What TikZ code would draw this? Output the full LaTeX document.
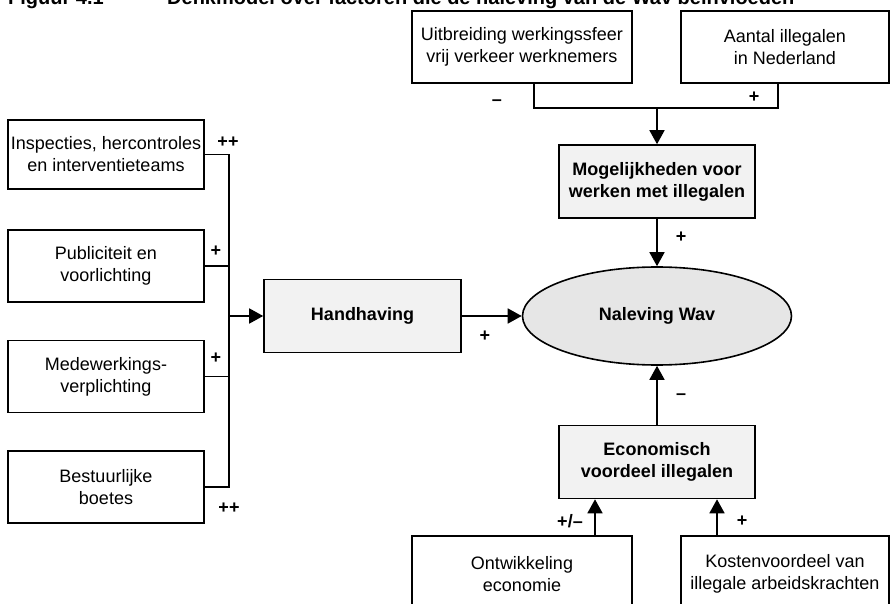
\documentclass[tikz,border=0pt]{standalone}
\usepackage{fontspec}
\setmainfont{Liberation Sans}
\usetikzlibrary{shapes.geometric,arrows.meta}
\definecolor{boxgray}{HTML}{F2F2F2}
\definecolor{ellgray}{HTML}{E6E6E6}
\begin{document}
\begin{tikzpicture}[x=1pt,y=-1pt,
  box/.style={draw, line width=1.6pt, inner sep=0pt, align=center, font=\fontsize{18}{22}\selectfont},
  gbox/.style={box, fill=boxgray, font=\fontsize{18}{22}\selectfont\bfseries},
  conn/.style={line width=1.6pt},
  arr/.style={conn, -{Triangle[length=14pt,width=15pt]}},
  lbl/.style={font=\fontsize{18}{18}\selectfont\bfseries, inner sep=0pt}]
\useasboundingbox (0,0) rectangle (892,604);
% title (cut off at top)
\node[anchor=base west, inner sep=0pt, font=\fontsize{20}{20}\selectfont\bfseries] (t1) at (8,5) {Figuur 4.1};
\node[anchor=base west, inner sep=0pt, font=\fontsize{20}{20}\selectfont\bfseries] (t2) at (167,5) {Denkmodel over factoren die de naleving van de Wav beïnvloeden};
% top boxes
\node[box, minimum width=220pt, minimum height=72pt] (uit) at (522,47) {Uitbreiding werkingssfeer\\vrij verkeer werknemers};
\node[box, minimum width=208pt, minimum height=72pt] (aan) at (785,47) {Aantal illegalen\\in Nederland};
% central
\node[gbox, minimum width=196pt, minimum height=73pt] (mog) at (657,181.5) {Mogelijkheden voor\\werken met illegalen};
\node[draw, line width=1.6pt, ellipse, fill=ellgray, minimum width=269pt, minimum height=98pt, inner sep=0pt, font=\fontsize{18}{22}\selectfont\bfseries] (nal) at (657,316) {Naleving Wav};
\node[gbox, minimum width=197pt, minimum height=73pt] (hand) at (362.5,316) {Handhaving};
\node[gbox, minimum width=196pt, minimum height=73pt] (eco) at (657,462) {Economisch\\voordeel illegalen};
% left boxes
\node[box, minimum width=196pt, minimum height=69pt] (insp) at (106,154.5) {Inspecties, hercontroles\\en interventieteams};
\node[box, minimum width=196pt, minimum height=72pt] (pub) at (106,266) {Publiciteit en\\voorlichting};
\node[box, minimum width=196pt, minimum height=72pt] (med) at (106,376.5) {Medewerkings-\\verplichting};
\node[box, minimum width=196pt, minimum height=72pt] (best) at (106,487) {Bestuurlijke\\boetes};
% bottom boxes
\node[box, minimum width=220pt, minimum height=76pt] (ont) at (522,574) {Ontwikkeling\\economie};
\node[box, minimum width=208pt, minimum height=76pt] (kos) at (785,574) {Kostenvoordeel van\\illegale arbeidskrachten};
% top connectors
\coordinate (j) at (657,108);
\draw[conn] ([xshift=12pt]uit.south) |- (j) -| ([xshift=-7pt]aan.south);
\draw[arr] (j) -- (mog.north);
\draw[arr] (mog.south) -- (nal.north);
\draw[arr] (hand.east) -- (nal.west);
\draw[arr] (eco.north) -- (nal.south);
\draw[arr] ([xshift=73pt]ont.north) -- ([xshift=73pt]ont.north |- eco.south);
\draw[arr] ([xshift=-68pt]kos.north) -- ([xshift=-68pt]kos.north |- eco.south);
% left bus
\coordinate (bus) at (229,316);
\draw[conn] (insp.east) -- (insp.east -| bus) -- (best.east -| bus) -- (best.east);
\draw[conn] (pub.east) -- (pub.east -| bus);
\draw[conn] (med.east) -- (med.east -| bus);
\draw[arr] (bus) -- (hand.west);
% labels
\node[lbl] (l1) at (497,103) {–};
\node[lbl] (l2) at (754,97) {+};
\node[lbl] (l3) at (681,237) {+};
\node[lbl] (l4) at (485,336) {+};
\node[lbl] (l5) at (681,397) {–};
\node[lbl] (l6) at (570,521) {+/–};
\node[lbl] (l7) at (742,521) {+};
\node[lbl] (l8) at (228,142) {++};
\node[lbl] (l9) at (216,251) {+};
\node[lbl] (l10) at (216,358) {+};
\node[lbl] (l11) at (229,508) {++};
\end{tikzpicture}
\end{document}
